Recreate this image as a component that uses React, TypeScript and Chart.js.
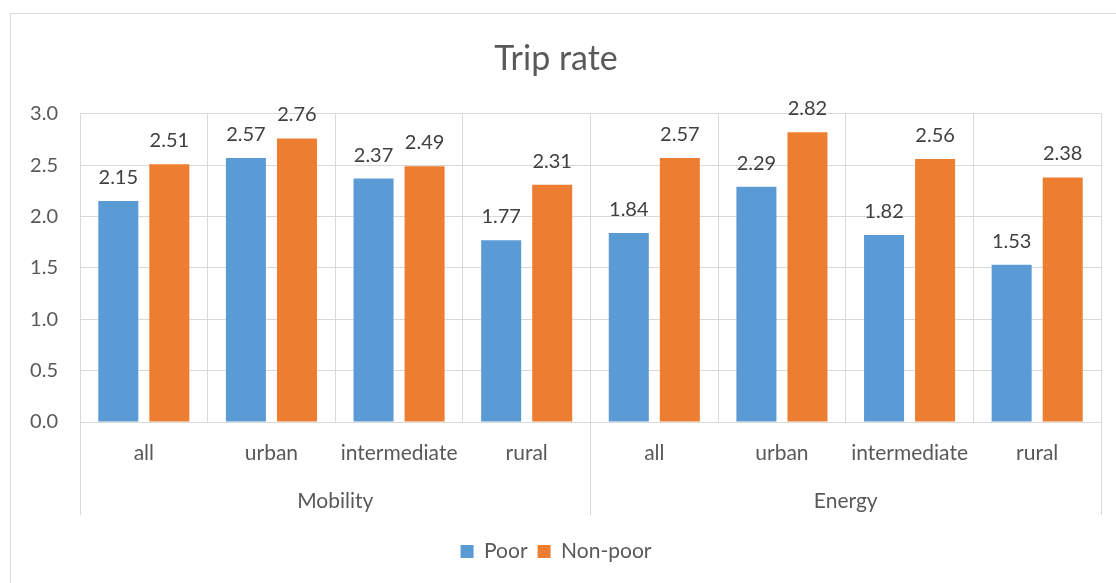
import React, { useEffect, useRef } from "react";
import { Chart, registerables } from "chart.js";

Chart.register(...registerables);

// Trip rate by poverty status, grouped by survey (Mobility / Energy)
const groups = ["Mobility", "Energy"];
const categories = ["all", "urban", "intermediate", "rural", "all", "urban", "intermediate", "rural"];
const poor = [2.15, 2.57, 2.37, 1.77, 1.84, 2.29, 1.82, 1.53];
const nonPoor = [2.51, 2.76, 2.49, 2.31, 2.57, 2.82, 2.56, 2.38];
const yMin = 0;
const yMax = 3;
const yStep = 0.5;

const FONT = "Lato, 'Open Sans', sans-serif";
const TEXT = "#595959";
const LABEL = "#404040";
const GRID = "#d9d9d9";
const BLUE = "#5b9bd5";
const ORANGE = "#ed7d31";

const align = (px: number) => Math.round(px - 0.5) + 0.5;

// Second level of the category axis: group separators and group names
const groupAxisPlugin = {
  id: "groupAxis",
  afterDraw(chart: any) {
    const x = chart.scales.x;
    const { ctx, chartArea } = chart;
    const per = categories.length / groups.length;
    const bottom = chartArea.bottom + 93;
    ctx.save();
    ctx.strokeStyle = GRID;
    ctx.lineWidth = 1;
    for (let g = 0; g <= groups.length; g++) {
      const px = align(x.getPixelForValue(g * per - 0.5));
      ctx.beginPath();
      ctx.moveTo(px, chartArea.bottom);
      ctx.lineTo(px, bottom);
      ctx.stroke();
    }
    ctx.fillStyle = TEXT;
    ctx.font = `21px ${FONT}`;
    ctx.textAlign = "center";
    ctx.textBaseline = "middle";
    groups.forEach((name, g) => {
      const cx = x.getPixelForValue(g * per + (per - 1) / 2);
      ctx.fillText(name, cx, chartArea.bottom + 79);
    });
    ctx.restore();
  },
};

// Value labels above each bar
const valueLabelPlugin = {
  id: "valueLabels",
  afterDatasetsDraw(chart: any) {
    const { ctx } = chart;
    ctx.save();
    ctx.fillStyle = LABEL;
    ctx.font = `20px ${FONT}`;
    ctx.textAlign = "center";
    ctx.textBaseline = "alphabetic";
    chart.data.datasets.forEach((ds: any, di: number) => {
      const meta = chart.getDatasetMeta(di);
      meta.data.forEach((bar: any, i: number) => {
        ctx.fillText((ds.data[i] as number).toFixed(2), bar.x, bar.y - 17);
      });
    });
    ctx.restore();
  },
};

export default function App() {
  const canvasRef = useRef<HTMLCanvasElement | null>(null);

  useEffect(() => {
    if (!canvasRef.current) return;
    const chart = new Chart(canvasRef.current, {
      type: "bar",
      data: {
        labels: categories,
        datasets: [
          { label: "Poor", data: poor, backgroundColor: BLUE, categoryPercentage: 0.8, barPercentage: 0.784 },
          { label: "Non-poor", data: nonPoor, backgroundColor: ORANGE, categoryPercentage: 0.8, barPercentage: 0.784 },
        ],
      },
      options: {
        responsive: false,
        animation: false,
        events: [],
        layout: { padding: { left: 0, right: 15, top: 0, bottom: 11 } },
        scales: {
          x: {
            type: "category",
            offset: true,
            grid: { display: true, offset: true, color: GRID, drawTicks: false },
            border: { display: true, color: GRID },
            ticks: {
              color: TEXT,
              font: { family: FONT, size: 21 },
              padding: 19,
              maxRotation: 0,
              autoSkip: false,
            },
            afterFit: (scale: any) => {
              scale.height = 109;
            },
          },
          y: {
            min: yMin,
            max: yMax,
            grid: { color: GRID, drawTicks: false },
            border: { display: false },
            ticks: {
              stepSize: yStep,
              color: TEXT,
              font: { family: FONT, size: 20 },
              padding: 22,
              callback: (v: any) => Number(v).toFixed(1),
            },
            afterFit: (scale: any) => {
              scale.width = 69;
            },
          },
        },
        plugins: {
          title: {
            display: true,
            text: "Trip rate",
            color: TEXT,
            font: { family: FONT, size: 34, weight: "normal" },
            padding: { top: 25, bottom: 34 },
          },
          legend: {
            display: true,
            position: "bottom",
            labels: {
              color: TEXT,
              font: { family: FONT, size: 21 },
              boxWidth: 13,
              boxHeight: 13,
              padding: 10,
            },
          },
          tooltip: { enabled: false },
        },
      },
      plugins: [groupAxisPlugin, valueLabelPlugin],
    });
    return () => chart.destroy();
  }, []);

  return (
    <div
      style={{
        position: "fixed",
        left: 0,
        top: 0,
        width: 1116,
        height: 583,
        overflow: "hidden",
        background: "#fff",
      }}
    >
      <div
        style={{
          position: "absolute",
          left: 10,
          top: 13,
          width: 1130,
          height: 600,
          border: `1px solid ${GRID}`,
          background: "#fff",
        }}
      >
        <canvas ref={canvasRef} width={1105} height={569} style={{ display: "block" }} />
      </div>
    </div>
  );
}
